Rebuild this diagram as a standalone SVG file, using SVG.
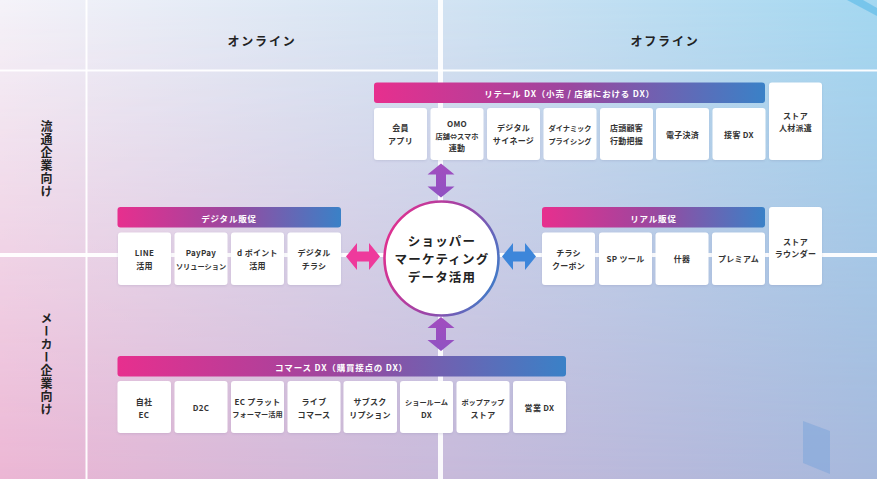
<svg xmlns="http://www.w3.org/2000/svg" width="877" height="479" viewBox="0 0 877 479">
<defs>
<linearGradient id="bgTop" x1="0" y1="0" x2="1" y2="0">
<stop offset="0" stop-color="#f5f3f9"/>
<stop offset="0.5" stop-color="#d3e4f3"/>
<stop offset="1" stop-color="#a4d8f1"/>
</linearGradient>
<linearGradient id="bgBot" x1="0" y1="0" x2="1" y2="0">
<stop offset="0" stop-color="#ecb6d4"/>
<stop offset="0.5" stop-color="#c8b9da"/>
<stop offset="1" stop-color="#a6b8dc"/>
</linearGradient>
<linearGradient id="vfade" x1="0" y1="0" x2="0" y2="1">
<stop offset="0" stop-color="#fff" stop-opacity="0"/>
<stop offset="1" stop-color="#fff" stop-opacity="1"/>
</linearGradient>
<mask id="bm"><rect x="0" y="0" width="877" height="479" fill="url(#vfade)"/></mask>
<linearGradient id="bar" x1="0" y1="0" x2="1" y2="0">
<stop offset="0" stop-color="#e72f8e"/>
<stop offset="0.5" stop-color="#9b479f"/>
<stop offset="1" stop-color="#3a81c7"/>
</linearGradient>
<linearGradient id="ring" x1="0" y1="0.3" x2="1" y2="0.7">
<stop offset="0" stop-color="#e0308f"/>
<stop offset="0.55" stop-color="#9b45a8"/>
<stop offset="1" stop-color="#3f7cc8"/>
</linearGradient>
<linearGradient id="vArrow" x1="0" y1="0" x2="1" y2="0">
<stop offset="0" stop-color="#a24dbf"/>
<stop offset="1" stop-color="#9052c2"/>
</linearGradient>
<filter id="sh" x="-20%" y="-20%" width="140%" height="140%">
<feDropShadow dx="0" dy="1" stdDeviation="1.2" flood-color="#505080" flood-opacity="0.15"/>
</filter>
<path id="dbl" d="M-17,0 L-6,-13.5 L-6,-5 L6,-5 L6,-13.5 L17,0 L6,13.5 L6,5 L-6,5 L-6,13.5 Z"/>
</defs>
<style>
.cell{fill:#fff;filter:url(#sh)}
.bar{fill:url(#bar)}
.ct{font-family:"Noto Sans CJK JP","Noto Sans",sans-serif;font-size:8px;font-weight:700;fill:#333;text-anchor:middle;dominant-baseline:central;letter-spacing:0.3px}
.sm{font-size:7.2px;letter-spacing:0}
.bt{font-family:"Noto Sans CJK JP","Noto Sans",sans-serif;font-size:8.5px;font-weight:700;fill:#fff;text-anchor:middle;dominant-baseline:central;letter-spacing:0.8px}
.hd{font-family:"Noto Sans CJK JP","Noto Sans",sans-serif;font-size:12px;font-weight:700;fill:#222;text-anchor:middle;dominant-baseline:central;letter-spacing:1.8px}
.vt{font-family:"Noto Sans CJK JP","Noto Sans",sans-serif;font-size:12px;font-weight:700;fill:#222;text-anchor:middle;writing-mode:vertical-rl;letter-spacing:1px}
.cc{font-family:"Noto Sans CJK JP","Noto Sans",sans-serif;font-size:12.5px;font-weight:700;fill:#222;text-anchor:middle;dominant-baseline:central;letter-spacing:1.2px}
</style>

<g id="background">
<rect x="0" y="0" width="877" height="479" fill="url(#bgTop)"/>
<rect x="0" y="0" width="877" height="479" fill="url(#bgBot)" mask="url(#bm)"/>
<polygon points="847,0 863,0 877,8 877,16" fill="#6cc0ea" opacity="0.8"/>
<polygon points="803,421 830,431 830,474 803,463" fill="#7ea6da" opacity="0.55"/>
<g fill="#fff">
<rect x="0" y="69.5" width="877" height="2" opacity="0.95"/>
<rect x="0" y="253" width="877" height="4" opacity="0.95"/>
<rect x="85.5" y="0" width="2" height="479" opacity="0.95"/>
<rect x="438" y="0" width="5" height="479" opacity="0.9"/>
</g>
</g>

<g id="headers">
<text class="hd" x="262" y="40">オンライン</text>
<text class="hd" x="665" y="40">オフライン</text>
<text class="vt" x="46.5" y="159">流通企業向け</text>
<text class="vt" x="46.5" y="364">メーカー企業向け</text>
</g>

<g id="connectors">
<use href="#dbl" transform="translate(441,180.5) rotate(90)" fill="url(#vArrow)"/>
<use href="#dbl" transform="translate(441,334) rotate(90)" fill="url(#vArrow)"/>
<use href="#dbl" transform="translate(363,256.5)" fill="#ee3a9c"/>
<use href="#dbl" transform="translate(519,256.5)" fill="#3d86da"/>
</g>

<g id="center-node">
<circle cx="441.5" cy="258.5" r="57" fill="#fff" stroke="url(#ring)" stroke-width="2.6"/>
<text class="cc" x="442" y="240.5">ショッパー</text>
<text class="cc" x="442" y="258.5">マーケティング</text>
<text class="cc" x="442" y="276">データ活用</text>
</g>

<g id="retail-dx">
<rect class="bar" x="374" y="82.5" width="391" height="20.5" rx="3"/>
<text class="bt" x="569.5" y="93">リテール DX（小売 / 店舗における DX）</text>
<rect class="cell" x="374" y="108" width="53" height="52" rx="3"/>
<text class="ct" x="400.5" y="127.5">会員</text><text class="ct" x="400.5" y="140.5">アプリ</text>
<rect class="cell" x="430.5" y="108" width="53" height="52" rx="3"/>
<text class="ct" x="457" y="123.5">OMO</text><text class="ct sm" x="457" y="135.5">店舗⇔スマホ</text><text class="ct" x="457" y="147.5">連動</text>
<rect class="cell" x="487" y="108" width="53" height="52" rx="3"/>
<text class="ct" x="513.5" y="127.5">デジタル</text><text class="ct" x="513.5" y="140.5">サイネージ</text>
<rect class="cell" x="543.5" y="108" width="53" height="52" rx="3"/>
<text class="ct sm" x="570" y="127.5">ダイナミック</text><text class="ct sm" x="570" y="140.5">プライシング</text>
<rect class="cell" x="600" y="108" width="53" height="52" rx="3"/>
<text class="ct" x="626.5" y="127.5">店頭顧客</text><text class="ct" x="626.5" y="140.5">行動把握</text>
<rect class="cell" x="656" y="108" width="53" height="52" rx="3"/>
<text class="ct" x="682.5" y="134">電子決済</text>
<rect class="cell" x="712.5" y="108" width="53" height="52" rx="3"/>
<text class="ct" x="739" y="134">接客 DX</text>
<rect class="cell" x="769" y="82.5" width="53" height="77.5" rx="3"/>
<text class="ct" x="795.5" y="115.5">ストア</text><text class="ct" x="795.5" y="127.5">人材派遣</text>
</g>

<g id="digital-promo">
<rect class="bar" x="117.5" y="207" width="223.5" height="20.5" rx="3"/>
<text class="bt" x="229" y="217.5">デジタル販促</text>
<rect class="cell" x="118" y="232.5" width="53" height="52.5" rx="3"/>
<text class="ct" x="144.5" y="252.5">LINE</text><text class="ct" x="144.5" y="265.5">活用</text>
<rect class="cell" x="174.5" y="232.5" width="53" height="52.5" rx="3"/>
<text class="ct" x="201" y="252.5">PayPay</text><text class="ct sm" x="201" y="265.5">ソリューション</text>
<rect class="cell" x="231" y="232.5" width="53" height="52.5" rx="3"/>
<text class="ct" x="257.5" y="252.5">d ポイント</text><text class="ct" x="257.5" y="265.5">活用</text>
<rect class="cell" x="287.5" y="232.5" width="53.5" height="52.5" rx="3"/>
<text class="ct" x="314" y="252.5">デジタル</text><text class="ct" x="314" y="265.5">チラシ</text>
</g>

<g id="real-promo">
<rect class="bar" x="542" y="207" width="223" height="20.5" rx="3"/>
<text class="bt" x="653.5" y="217.5">リアル販促</text>
<rect class="cell" x="542" y="232.5" width="53" height="52.5" rx="3"/>
<text class="ct" x="568.5" y="252.5">チラシ</text><text class="ct" x="568.5" y="265.5">クーポン</text>
<rect class="cell" x="599" y="232.5" width="53" height="52.5" rx="3"/>
<text class="ct" x="625.5" y="258.5">SP ツール</text>
<rect class="cell" x="655.5" y="232.5" width="53" height="52.5" rx="3"/>
<text class="ct" x="682" y="258.5">什器</text>
<rect class="cell" x="712" y="232.5" width="53" height="52.5" rx="3"/>
<text class="ct" x="738.5" y="258.5">プレミアム</text>
<rect class="cell" x="769" y="207" width="53" height="78" rx="3"/>
<text class="ct" x="795.5" y="241.5">ストア</text><text class="ct" x="795.5" y="253.5">ラウンダー</text>
</g>

<g id="commerce-dx">
<rect class="bar" x="117.5" y="356" width="448.5" height="20.5" rx="3"/>
<text class="bt" x="341.5" y="366.5">コマース DX（購買接点の DX）</text>
<rect class="cell" x="117.5" y="381" width="53.5" height="52" rx="3"/>
<text class="ct" x="144" y="401.5">自社</text><text class="ct" x="144" y="414">EC</text>
<rect class="cell" x="174.5" y="381" width="53" height="52" rx="3"/>
<text class="ct" x="201" y="407.5">D2C</text>
<rect class="cell" x="231" y="381" width="53" height="52" rx="3"/>
<text class="ct" x="257.5" y="401.5">EC プラット</text><text class="ct sm" x="257.5" y="414">フォーマー活用</text>
<rect class="cell" x="287.5" y="381" width="53" height="52" rx="3"/>
<text class="ct" x="314" y="401.5">ライブ</text><text class="ct" x="314" y="414">コマース</text>
<rect class="cell" x="343.5" y="381" width="53.5" height="52" rx="3"/>
<text class="ct" x="370" y="401.5">サブスク</text><text class="ct" x="370" y="414">リプション</text>
<rect class="cell" x="400" y="381" width="53" height="52" rx="3"/>
<text class="ct sm" x="426.5" y="401.5">ショールーム</text><text class="ct" x="426.5" y="414">DX</text>
<rect class="cell" x="456.5" y="381" width="53" height="52" rx="3"/>
<text class="ct sm" x="483" y="401.5">ポップアップ</text><text class="ct" x="483" y="414">ストア</text>
<rect class="cell" x="513" y="381" width="53" height="52" rx="3"/>
<text class="ct" x="539.5" y="407.5">営業 DX</text>
</g>
</svg>
